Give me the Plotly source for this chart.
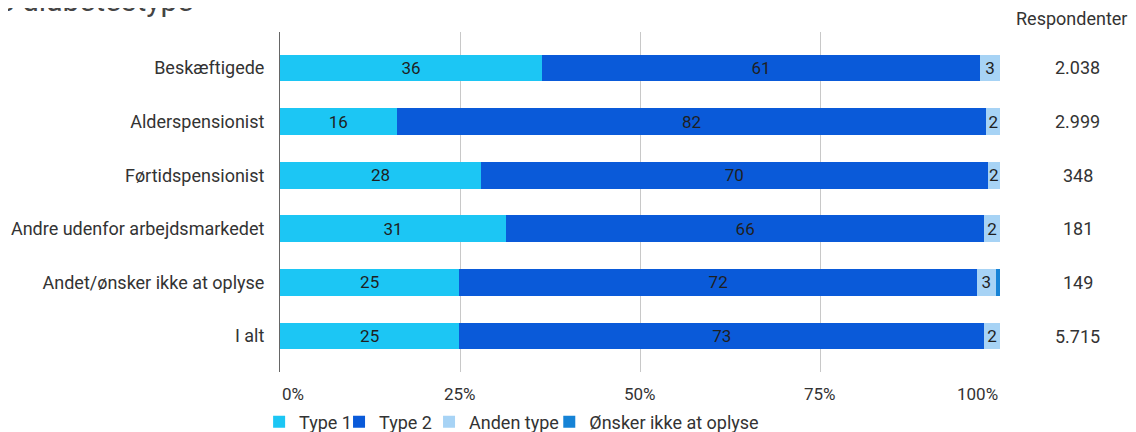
import plotly.graph_objects as go

categories = [
    "Beskæftigede",
    "Alderspensionist",
    "Førtidspensionist",
    "Andre udenfor arbejdsmarkedet",
    "Andet/ønsker ikke at oplyse",
    "I alt",
]
type_1 = [36.4, 16.2, 27.9, 31.4, 24.9, 24.9]
type_2 = [60.8, 81.9, 70.4, 66.4, 71.9, 72.9]
anden_type = [2.8, 1.9, 1.7, 2.2, 2.6, 2.2]
onsker_ikke = [0.0, 0.0, 0.0, 0.0, 0.6, 0.0]
respondenter = ["2.038", "2.999", "348", "181", "149", "5.715"]
x_ticks = [0, 25, 50, 75, 100]
x_tick_labels = ["0%", "25%", "50%", "75%", "100%"]

series = [
    ("Type 1", type_1, "#1cc6f4"),
    ("Type 2", type_2, "#0a5ad9"),
    ("Anden type", anden_type, "#a7d3f5"),
    ("Ønsker ikke at oplyse", onsker_ikke, "#1683d6"),
]
# one small legend per series so the entries sit close together like the original
legend_x = [-0.029, 0.082, 0.207, 0.374]

FONT = "Roboto, sans-serif"
FS = 18
FS_SMALL = 17
TXT = "#333333"

fig = go.Figure()
for i, (name, vals, color) in enumerate(series):
    # only label segments that are big enough to carry a number
    labels = [f"{v:.0f}" if v >= 1 else "" for v in vals]
    fig.add_trace(go.Bar(
        y=categories,
        x=vals,
        name=name,
        orientation="h",
        marker=dict(color=color, line=dict(width=0)),
        text=labels,
        textposition="inside",
        insidetextanchor="middle",
        textfont=dict(color="#1f1f1f", size=FS_SMALL, family=FONT),
        constraintext="none",
        hoverinfo="x+name",
        legend="legend" if i == 0 else f"legend{i + 1}",
    ))

# respondent counts to the right of the bars
for cat, n in zip(categories, respondenter):
    fig.add_annotation(
        x=1.108, xref="paper", y=cat, yref="y",
        text=n, showarrow=False, xanchor="center",
        font=dict(size=FS, color=TXT, family=FONT),
    )
fig.add_annotation(
    x=1.099, xref="paper", y=1.041, yref="paper",
    text="Respondenter", showarrow=False, xanchor="center", yanchor="middle",
    font=dict(size=FS, color=TXT, family=FONT),
)

# x tick labels: first one left aligned, last one right aligned
for i, (v, lab) in enumerate(zip(x_ticks, x_tick_labels)):
    anchor = "left" if i == 0 else ("right" if i == len(x_ticks) - 1 else "center")
    fig.add_annotation(
        x=v, xref="x", y=-0.064, yref="paper",
        text=lab, showarrow=False, xanchor=anchor, yanchor="middle",
        font=dict(size=FS_SMALL, color=TXT, family=FONT),
    )

# title, cut off at the top edge of the picture
fig.add_annotation(
    x=-0.393, xref="paper", y=1.094, yref="paper",
    text="s diabetestype", showarrow=False, xanchor="left", yanchor="middle",
    font=dict(size=30, color="#444444", family=FONT),
)

legends = {}
for i, lx in enumerate(legend_x):
    key = "legend" if i == 0 else f"legend{i + 1}"
    legends[key] = dict(
        orientation="h",
        x=lx, xanchor="left",
        yref="container", y=0.0236, yanchor="middle",
        font=dict(size=FS, color=TXT, family=FONT),
        bgcolor="rgba(0,0,0,0)",
        itemwidth=30,
    )

# page body has an 8px margin, so the figure is 8px smaller than the window
fig.update_layout(
    barmode="stack",
    bargap=0.5,
    width=1128,
    height=424,
    margin=dict(l=272, r=136, t=24, b=60, autoexpand=False),
    paper_bgcolor="white",
    plot_bgcolor="white",
    font=dict(family=FONT, size=FS, color=TXT),
    uniformtext=dict(minsize=FS_SMALL, mode="show"),
    xaxis=dict(
        range=[0, 100],
        tickvals=x_ticks,
        showticklabels=False,
        showgrid=True,
        gridcolor="#c8c8c8",
        gridwidth=1,
        zeroline=False,
        showline=False,
        ticks="",
        automargin=False,
        fixedrange=True,
    ),
    yaxis=dict(
        categoryorder="array",
        categoryarray=categories,
        range=[5.67, -0.67],
        showgrid=False,
        showline=True,
        linecolor="#666666",
        linewidth=1,
        ticks="",
        ticklabelstandoff=11,
        tickfont=dict(size=FS, color=TXT),
        automargin=False,
        fixedrange=True,
    ),
    showlegend=True,
    **legends,
)

fig.write_html("out.html")
